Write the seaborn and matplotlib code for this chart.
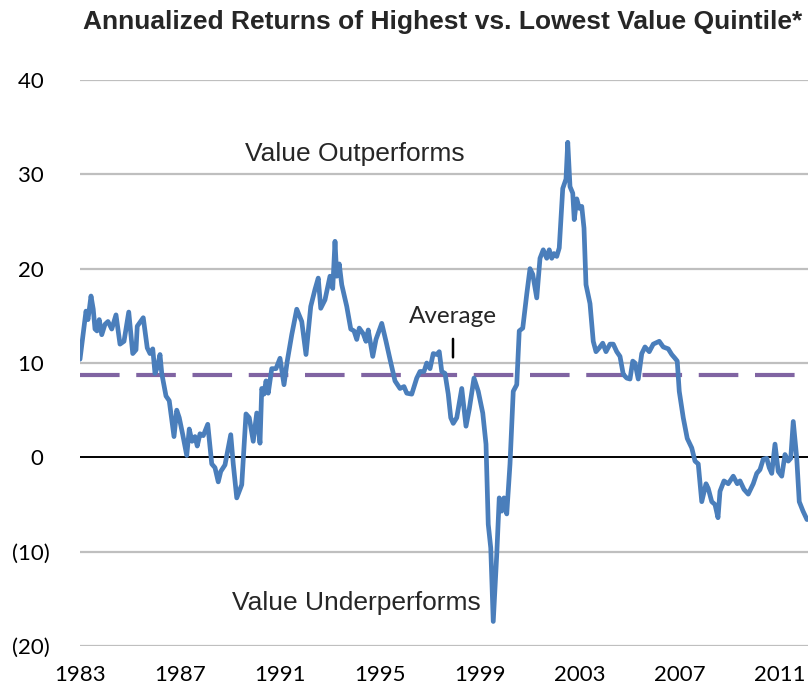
import numpy as np
import pandas as pd
import matplotlib
matplotlib.use("Agg")
import matplotlib.pyplot as plt
import seaborn as sns

# values (decimal year, annualized spread %)
years = [
    1983.00, 1983.24, 1983.32, 1983.44, 1983.53, 1983.60, 1983.68, 1983.77, 1983.87, 1984.00,
    1984.12, 1984.27, 1984.44, 1984.60, 1984.76, 1984.95, 1985.11, 1985.24, 1985.29, 1985.53,
    1985.69, 1985.80, 1985.91, 1986.00, 1986.09, 1986.20, 1986.27, 1986.44, 1986.57, 1986.76,
    1986.87, 1986.97, 1987.11, 1987.27, 1987.37, 1987.48, 1987.60, 1987.69, 1987.80, 1987.93,
    1988.11, 1988.27, 1988.40, 1988.53, 1988.63, 1988.80, 1989.03, 1989.13, 1989.27, 1989.47,
    1989.64, 1989.77, 1989.93, 1990.07, 1990.20, 1990.27, 1990.36, 1990.44, 1990.53, 1990.67,
    1990.84, 1991.00, 1991.16, 1991.29, 1991.47, 1991.67, 1991.87, 1992.04, 1992.23, 1992.40,
    1992.53, 1992.63, 1992.80, 1993.00, 1993.11, 1993.20, 1993.27, 1993.37, 1993.47, 1993.67,
    1993.83, 1993.96, 1994.07, 1994.17, 1994.33, 1994.44, 1994.53, 1994.71, 1994.84, 1995.07,
    1995.24, 1995.40, 1995.60, 1995.80, 1995.96, 1996.07, 1996.27, 1996.47, 1996.60, 1996.76,
    1996.87, 1997.00, 1997.13, 1997.27, 1997.37, 1997.47, 1997.60, 1997.73, 1997.83, 1997.93,
    1998.07, 1998.27, 1998.44, 1998.57, 1998.76, 1998.93, 1999.11, 1999.24, 1999.33, 1999.43,
    1999.53, 1999.67, 1999.77, 1999.87, 1999.96, 2000.07, 2000.20, 2000.33, 2000.47, 2000.57,
    2000.71, 2000.87, 2001.00, 2001.11, 2001.27, 2001.40, 2001.53, 2001.67, 2001.77, 2001.87,
    2001.96, 2002.07, 2002.17, 2002.31, 2002.44, 2002.51, 2002.60, 2002.71, 2002.77, 2002.87,
    2002.97, 2003.07, 2003.16, 2003.24, 2003.40, 2003.53, 2003.64, 2003.77, 2003.91, 2004.04,
    2004.20, 2004.33, 2004.47, 2004.60, 2004.73, 2004.87, 2005.00, 2005.11, 2005.20, 2005.33,
    2005.47, 2005.60, 2005.77, 2005.93, 2006.17, 2006.33, 2006.53, 2006.67, 2006.80, 2006.89,
    2006.97, 2007.13, 2007.29, 2007.47, 2007.60, 2007.73, 2007.87, 2008.04, 2008.13, 2008.27,
    2008.40, 2008.52, 2008.60, 2008.76, 2008.93, 2009.13, 2009.29, 2009.40, 2009.56, 2009.73,
    2009.93, 2010.07, 2010.20, 2010.33, 2010.47, 2010.57, 2010.67, 2010.80, 2010.93, 2011.07,
    2011.20, 2011.33, 2011.43, 2011.53, 2011.67, 2011.77, 2011.92, 2012.08,
]
returns = [
    10.4, 15.5, 14.6, 17.1, 15.7, 13.6, 13.4, 14.6, 13.0, 14.1,
    14.4, 13.6, 15.1, 12.0, 12.3, 15.4, 11.0, 11.4, 13.9, 14.8,
    11.6, 11.0, 11.5, 8.9, 9.5, 10.9, 8.9, 6.5, 6.0, 2.2,
    5.0, 4.2, 2.4, 0.2, 3.0, 1.7, 2.2, 1.2, 2.5, 2.3,
    3.5, -0.7, -1.1, -2.6, -1.5, -0.8, 2.4, -0.7, -4.3, -2.9,
    4.6, 4.2, 1.7, 4.7, 1.5, 7.3, 6.7, 8.1, 6.8, 9.4,
    9.4, 10.5, 7.7, 10.2, 13.0, 15.7, 14.4, 10.9, 16.0, 17.8,
    19.0, 15.8, 16.7, 19.2, 17.9, 22.9, 19.2, 20.5, 18.3, 16.0,
    13.6, 13.4, 12.5, 13.7, 13.1, 12.3, 13.5, 10.7, 12.5, 14.2,
    12.3, 10.4, 8.1, 7.3, 7.5, 6.8, 6.7, 8.4, 9.1, 9.1,
    10.0, 9.4, 11.0, 10.9, 11.2, 9.1, 8.9, 6.7, 4.2, 3.6,
    4.2, 7.3, 3.3, 5.1, 8.4, 7.0, 4.7, 1.4, -7.1, -9.6,
    -17.4, -10.3, -4.3, -5.7, -4.3, -6.0, -0.7, 7.0, 7.7, 13.4,
    13.7, 17.3, 20.0, 19.4, 16.9, 21.1, 22.0, 21.1, 22.0, 21.1,
    21.6, 21.3, 22.2, 28.5, 29.5, 33.4, 28.7, 28.0, 25.2, 27.4,
    26.4, 26.6, 24.3, 18.3, 16.3, 12.3, 11.2, 11.6, 12.1, 11.2,
    12.0, 12.0, 11.2, 10.7, 8.8, 8.4, 8.3, 10.2, 10.0, 8.3,
    11.0, 11.7, 11.2, 12.0, 12.3, 11.7, 11.5, 10.9, 10.5, 10.2,
    7.0, 4.2, 2.0, 1.0, -0.4, -0.7, -4.7, -2.8, -3.3, -4.7,
    -5.0, -6.4, -3.6, -2.5, -2.8, -2.0, -2.8, -2.5, -3.4, -3.9,
    -2.8, -1.7, -1.3, -0.2, -0.1, -1.1, -1.7, 1.4, -1.5, -2.0,
    0.3, -0.4, -0.1, 3.8, -0.1, -4.7, -5.7, -6.6,
]
average = 8.7

x_ticks = [1983, 1987, 1991, 1995, 1999, 2003, 2007, 2011]
y_ticks = [-20, -10, 0, 10, 20, 30, 40]
y_labels = ["(20)", "(10)", "0 ", "10 ", "20 ", "30 ", "40 "]

df = pd.DataFrame({"Year": years, "Return": returns})

sns.set_theme(style="white")
plt.rcParams["font.family"] = ["Lato", "DejaVu Sans"]

fig = plt.figure(figsize=(8.1, 6.91), dpi=100)
ax = fig.add_axes([80 / 810, 1 - 646 / 691, 728 / 810, 566 / 691])

for v in y_ticks:
    if v != 0:
        ax.axhline(v, color="#BFBFBF", lw=1.6, zorder=0)
ax.axhline(0, color="black", lw=1.4, zorder=1)

ax.axhline(average, color="#8064A2", lw=3, linestyle=(0, (9.5, 4.0)), zorder=2)

sns.lineplot(data=df, x="Year", y="Return", ax=ax, color="#4A7EBB",
             linewidth=3.4, zorder=3)

ax.set_xlim(1983, 2012.12)
ax.set_ylim(-20, 40)
ax.set_xticks(x_ticks)
ax.set_xticklabels([str(y) for y in x_ticks], fontsize=16, color="black")
ax.set_yticks(y_ticks)
ax.set_yticklabels(y_labels, fontsize=16, color="black")
ax.tick_params(axis="both", length=0)
ax.tick_params(axis="x", pad=14)
ax.tick_params(axis="y", pad=22)
ax.set_xlabel("")
ax.set_ylabel("")
for s in ax.spines.values():
    s.set_visible(False)

ax.text(1989.6, 32.2, "Value Outperforms", fontsize=19,
        family=["Liberation Sans", "DejaVu Sans"], va="center")
ax.text(1989.1, -15.4, "Value Underperforms", fontsize=19,
        family=["Liberation Sans", "DejaVu Sans"], va="center")
ax.annotate("Average", xy=(1997.92, 10.6), xytext=(1997.92, 14.9),
            fontsize=17.5, ha="center", va="center",
            arrowprops=dict(arrowstyle="-", color="black", lw=1.8,
                            shrinkA=6, shrinkB=0))

fig.text(443 / 810, 1 - 22 / 691, "Annualized Returns of Highest vs. Lowest Value Quintile*",
         fontsize=19, fontweight="bold", ha="center", va="center",
         family=["Liberation Sans", "DejaVu Sans"])

fig.savefig("out.png", dpi=100)
